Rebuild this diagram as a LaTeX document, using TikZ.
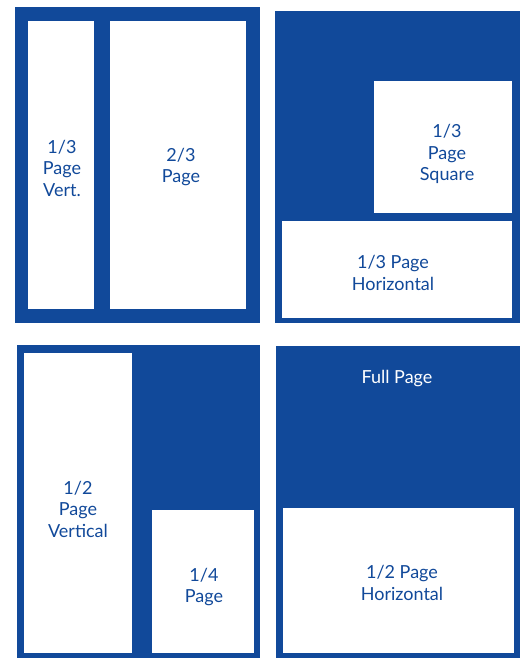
\documentclass[tikz,border=0pt]{standalone}
\usepackage{fontspec}
\setmainfont{Lato}
\usetikzlibrary{positioning}
\definecolor{adblue}{RGB}{17,73,154}

\begin{document}
\begin{tikzpicture}[x=1pt,y=-1pt,
  panel/.style={fill=adblue},
  slot/.style={fill=white},
  lbl/.style={text=adblue,align=center,font=\fontsize{18}{21.5}\selectfont},
  ]
  \useasboundingbox (0,0) rectangle (520,658);
  % top left: 1/3 vertical + 2/3
  \fill[panel] (15,7) rectangle (260,323);
  \fill[slot] (28,21) rectangle (94,309);
  \fill[slot] (110,21) rectangle (246,309);
  \node[lbl] (thirdvert) at (62,168) {1/3\\Page\\Vert.};
  \node[lbl] (twothird) at (181,167) {2/3\\Page};
  % top right: 1/3 square + 1/3 horizontal
  \fill[panel] (275,11) rectangle (520,323);
  \fill[slot] (374,81) rectangle (512,213);
  \fill[slot] (282,221) rectangle (512,318);
  \node[lbl] (thirdsq) at (447,154) {1/3\\Page\\Square};
  \node[lbl] (thirdhoriz) at (393,273) {1/3 Page\\Horizontal};
  % bottom left: 1/2 vertical + 1/4
  \fill[panel] (17,345) rectangle (260,658);
  \fill[slot] (24,353) rectangle (132,653);
  \fill[slot] (152,510) rectangle (254,653);
  \node[lbl] (halfvert) at (78,509) {1/2\\Page\\Vertical};
  \node[lbl] (quarter) at (204,587) {1/4\\Page};
  % bottom right: full page + 1/2 horizontal
  \fill[panel] (276,346) rectangle (520,658);
  \fill[slot] (283,508) rectangle (514,653);
  \node[lbl,text=white] (full) at (397,379) {Full Page};
  \node[lbl] (halfhoriz) at (402,583) {1/2 Page\\Horizontal};
\end{tikzpicture}
\end{document}
